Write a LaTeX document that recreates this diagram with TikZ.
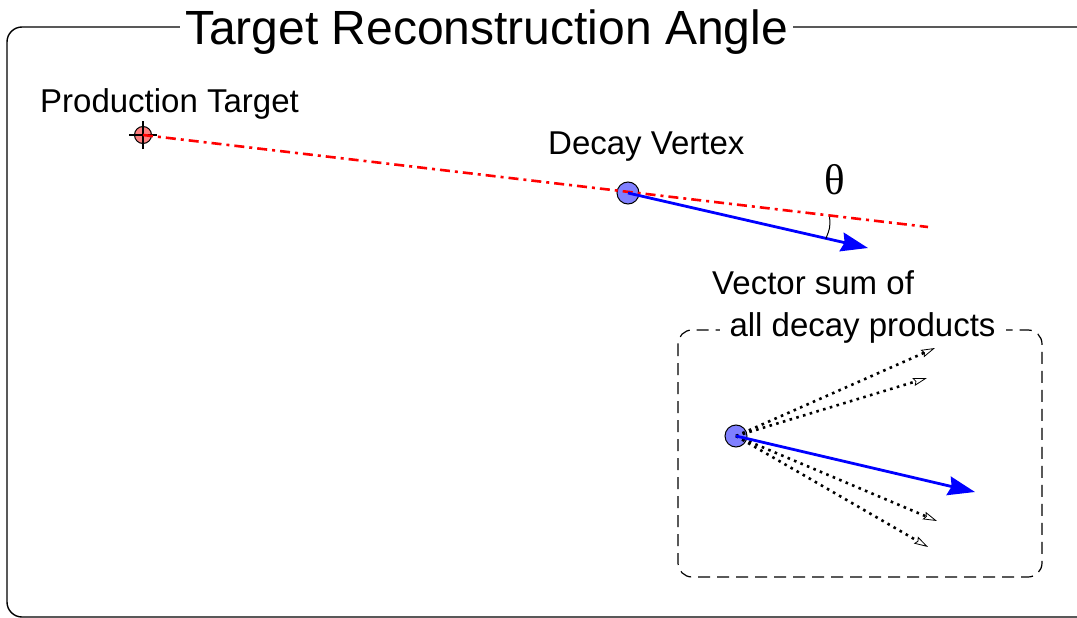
\documentclass[tikz,border=0pt]{standalone}
\usepackage{fontspec}
\setmainfont{Liberation Sans}
\newfontfamily\thetafont{Liberation Serif}
\usetikzlibrary{arrows.meta}
\begin{document}
\begin{tikzpicture}[x=1pt,y=-1pt,
  lbl/.style={font=\fontsize{33}{40}\selectfont, inner sep=0pt, anchor=base west},
  titlelbl/.style={font=\fontsize{48}{56}\selectfont, fill=white, inner xsep=5pt, inner ysep=4pt, anchor=base},
  frame/.style={draw=black, line width=1.4pt, rounded corners=15pt},
  subframe/.style={draw=black, line width=1.2pt, rounded corners=14pt, dash pattern=on 12pt off 7pt},
  tgtdot/.style={circle, draw=black, line width=1pt, fill=red!50, minimum size=17pt, inner sep=0pt},
  vtxdot/.style={circle, draw=black, line width=1pt, fill=blue!50, minimum size=22pt, inner sep=0pt},
  flight/.style={draw=red, line width=2.6pt, dash pattern=on 10pt off 5pt on 3pt off 5pt},
  sumarrow/.style={draw=blue, line width=2.8pt, -{Stealth[length=27pt,width=19pt,inset=3pt]}},
  prodarrow/.style={draw=black, line width=2.6pt, dash pattern=on 2.6pt off 4.4pt, -{Stealth[open,length=14pt,width=8pt,inset=2pt,line width=0.8pt]}},
  cross/.style={draw=black, line width=1.2pt}
]
\useasboundingbox (0,0) rectangle (1077,618);
\clip (0,0) rectangle (1077,618);

% outer frame
\draw[frame] (7,27) rectangle (1092,617);
\node[titlelbl] (title) at (486.5,45) {Target Reconstruction Angle};

% production target
\node[tgtdot] (tgt) at (143,135) {};
\draw[cross] ([xshift=-14pt]tgt.center) -- ([xshift=14pt]tgt.center);
\draw[cross] ([yshift=-14pt]tgt.center) -- ([yshift=14pt]tgt.center);
\node[lbl] (tgtlbl) at (40,112) {Production Target};

% decay vertex
\node[vtxdot] (vtx) at (628,193) {};
\node[lbl] (vtxlbl) at (548,154) {Decay Vertex};
\coordinate (redend) at (928,227);
\coordinate (tip1) at (868,248);
\draw[flight] (tgt.center) -- (redend);
\draw[sumarrow] (vtx.center) -- (tip1);

% angle
\coordinate (a1) at (829.6,216.7);
\coordinate (a2) at (825.8,238.7);
\draw[black, line width=1pt] (a1) .. controls (830.2,227.8) .. (a2);
\node[font=\thetafont\fontsize{43}{50}\selectfont, inner sep=0pt] (theta) at (835,180) {θ};

% inset
\draw[subframe] (678,330) rectangle (1042,577);
\node[lbl] (vs) at (712,294) {Vector sum of};
\node[font=\fontsize{33}{40}\selectfont, fill=white, inner xsep=10pt, inner ysep=3pt, anchor=base] (adp) at (862.5,336) {all decay products};

\node[vtxdot] (vtx2) at (736,436) {};
\coordinate (p1) at (935,348);
\coordinate (p2) at (927,378);
\coordinate (p3) at (937,521);
\coordinate (p4) at (928,547);
\coordinate (tip2) at (975,492);
\draw[prodarrow] (vtx2.center) -- (p1);
\draw[prodarrow] (vtx2.center) -- (p2);
\draw[prodarrow] (vtx2.center) -- (p3);
\draw[prodarrow] (vtx2.center) -- (p4);
\draw[sumarrow] (vtx2.center) -- (tip2);
\end{tikzpicture}
\end{document}
